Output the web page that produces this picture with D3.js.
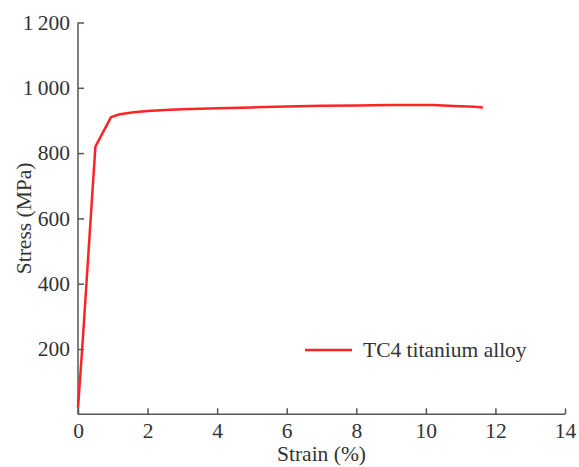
<!DOCTYPE html>
<html>
<head>
<meta charset="utf-8">
<script src="https://cdn.jsdelivr.net/npm/d3@7"></script>
<style>
  html, body { margin: 0; padding: 0; background: #fff; }
  svg { display: block; }
  text { font-family: "Liberation Serif", "Times New Roman", serif; fill: #333; }
</style>
</head>
<body>
<svg id="chart" width="579" height="467"></svg>
<script>
// Tensile test of TC4 titanium alloy
const strain = [0, 0.12, 0.5, 0.95, 1.2, 1.6, 2, 2.5, 3, 3.5, 4, 5, 6, 7, 8, 9, 10.2, 10.8, 11.4, 11.64];
const stress = [20, 200, 820, 910, 919, 925, 929, 932, 934, 936, 937, 940, 943, 945, 946, 947, 947, 944, 942, 940];
const xTicks = [0, 2, 4, 6, 8, 10, 12, 14];
const yTicks = [200, 400, 600, 800, 1000, 1200];
const seriesName = "TC4 titanium alloy";
const xTitle = "Strain (%)";
const yTitle = "Stress (MPa)";

const svg = d3.select("#chart");
const x = d3.scaleLinear().domain([0, 14]).range([78, 565]);
const y = d3.scaleLinear().domain([0, 1200]).range([414.3, 22.5]);

const axisColor = "#555";
const fontSize = "21.5px";
const fmt = v => v >= 1000 ? String(v).replace(/^(\d)(\d{3})$/, "$1\u2009$2") : String(v);

// x axis, ticks pointing inward
const gx = svg.append("g").attr("transform", `translate(0,${y(0)})`)
  .call(d3.axisBottom(x).tickValues(xTicks).tickSizeInner(-6).tickSizeOuter(0).tickPadding(8).tickFormat(fmt));
// y axis, ticks pointing inward
const gy = svg.append("g").attr("transform", `translate(${x(0)},0)`)
  .call(d3.axisLeft(y).tickValues(yTicks).tickSizeInner(-6).tickSizeOuter(0).tickPadding(8).tickFormat(fmt));

[gx, gy].forEach(g => {
  g.select(".domain").attr("stroke", axisColor).attr("stroke-width", 1.5);
  g.selectAll(".tick line").attr("stroke", axisColor).attr("stroke-width", 1.5);
  g.selectAll(".tick text").style("font-family", "'Liberation Serif', serif").style("font-size", fontSize).attr("fill", "#333");
});
gx.selectAll(".tick text").attr("dy", "0.71em");
gy.select(".domain").attr("d", `M0,${y(0)}V${y(1200)}`);
gx.select(".domain").attr("d", `M${x(0)},0H${x(14)}`);

// axis titles
svg.append("text")
  .attr("x", x(7)).attr("y", 461)
  .attr("text-anchor", "middle")
  .style("font-size", fontSize)
  .text(xTitle);
svg.append("text")
  .attr("transform", `translate(31,${(y(0) + y(1200)) / 2}) rotate(-90)`)
  .attr("text-anchor", "middle")
  .style("font-size", fontSize)
  .text(yTitle);

// stress–strain curve
const line = d3.line().x((d, i) => x(strain[i])).y(d => y(d));
svg.append("path")
  .datum(stress)
  .attr("fill", "none")
  .attr("stroke", "#ff2424")
  .attr("stroke-width", 2.5)
  .attr("stroke-linejoin", "round")
  .attr("d", line);

// legend
const lg = svg.append("g").attr("transform", "translate(305,350)");
lg.append("line").attr("x1", 0).attr("x2", 47).attr("y1", 0).attr("y2", 0)
  .attr("stroke", "#ff2424").attr("stroke-width", 2.5);
lg.append("text").attr("x", 58).attr("y", 7)
  .style("font-size", fontSize)
  .text(seriesName);
</script>
</body>
</html>
